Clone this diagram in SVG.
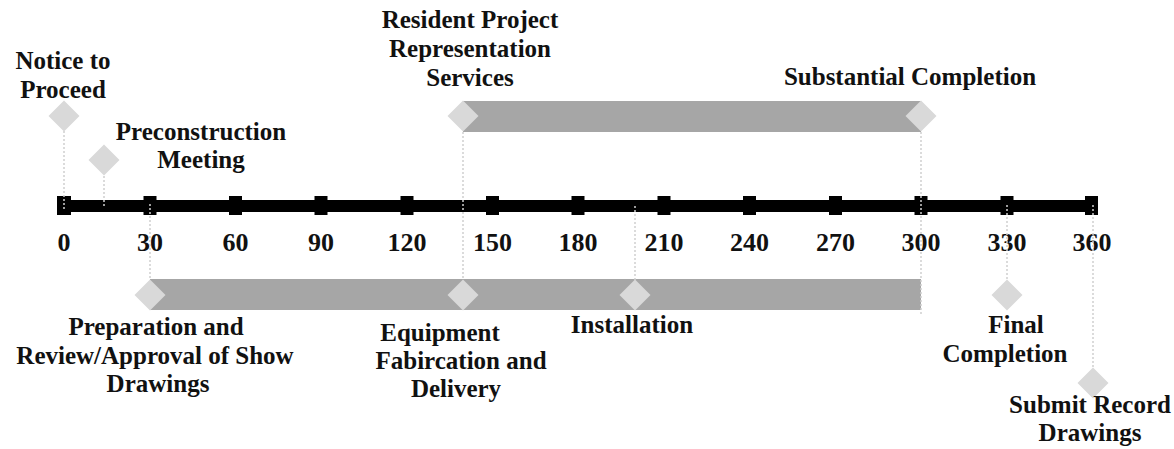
<svg xmlns="http://www.w3.org/2000/svg" width="1174" height="449" viewBox="0 0 1174 449">
<style>
text{font-family:"Liberation Serif","Times New Roman",serif;font-weight:bold;font-size:25px;fill:#111;text-anchor:middle}
.num{font-size:26px}
.bar{fill:#a6a6a6}
.dia{fill:#d9d9d9}
.dot{stroke:#cfcfcf;stroke-width:1.5;stroke-dasharray:2 2;fill:none}
.tick{fill:#000}
</style>
<defs>
<polygon id="d" class="dia" points="0,-15.5 15.5,0 0,15.5 -15.5,0"/>
</defs>
<g id="bars">
<rect class="bar" x="463" y="101" width="458" height="31"/>
<rect class="bar" x="150" y="279" width="771" height="31"/>
</g>
<g id="axis">
<rect x="57" y="200" width="1041" height="12" fill="#000"/>
<g class="tick">
<rect x="57" y="196" width="14" height="19"/>
<rect x="143.5" y="196" width="13" height="19"/>
<rect x="229" y="196" width="13" height="19"/>
<rect x="314.5" y="196" width="13" height="19"/>
<rect x="400.5" y="196" width="13" height="19"/>
<rect x="486" y="196" width="13" height="19"/>
<rect x="571.5" y="196" width="13" height="19"/>
<rect x="657.5" y="196" width="13" height="19"/>
<rect x="743" y="196" width="13" height="19"/>
<rect x="829" y="196" width="13" height="19"/>
<rect x="914.5" y="196" width="13" height="19"/>
<rect x="1000.5" y="196" width="13" height="19"/>
<rect x="1085" y="196" width="13" height="19"/>
</g>
<g class="labels">
<text class="num" x="64" y="251">0</text>
<text class="num" x="150" y="251">30</text>
<text class="num" x="235.5" y="251">60</text>
<text class="num" x="321" y="251">90</text>
<text class="num" x="407" y="251">120</text>
<text class="num" x="492.5" y="251">150</text>
<text class="num" x="578" y="251">180</text>
<text class="num" x="664" y="251">210</text>
<text class="num" x="749.5" y="251">240</text>
<text class="num" x="835.5" y="251">270</text>
<text class="num" x="921" y="251">300</text>
<text class="num" x="1007" y="251">330</text>
<text class="num" x="1092" y="251">360</text>
</g>
</g>
<g id="connectors">
<line class="dot" x1="64" y1="131" x2="64" y2="210"/>
<line class="dot" x1="104" y1="176" x2="104" y2="208"/>
<line class="dot" x1="150" y1="204" x2="150" y2="279"/>
<line class="dot" x1="463" y1="132" x2="463" y2="280"/>
<line class="dot" x1="635" y1="206" x2="635" y2="280"/>
<line class="dot" x1="921" y1="132" x2="921" y2="316"/>
<line class="dot" x1="1007" y1="205" x2="1007" y2="280"/>
<line class="dot" x1="1093" y1="205" x2="1093" y2="368"/>
</g>
<g id="notice-to-proceed">
<use href="#d" x="64" y="116"/>
<text x="63" y="69">Notice to</text>
<text x="63" y="98">Proceed</text>
</g>
<g id="preconstruction-meeting">
<use href="#d" x="104" y="160"/>
<text x="201" y="140">Preconstruction</text>
<text x="201" y="168">Meeting</text>
</g>
<g id="resident-project">
<use href="#d" x="463" y="116"/>
<text x="470" y="28">Resident Project</text>
<text x="470" y="57">Representation</text>
<text x="470" y="86">Services</text>
</g>
<g id="substantial-completion">
<use href="#d" x="921" y="116"/>
<text x="910" y="85">Substantial Completion</text>
</g>
<g id="preparation">
<use href="#d" x="150" y="295"/>
<text x="156" y="335">Preparation and</text>
<text x="155" y="364">Review/Approval of Show</text>
<text x="158" y="392">Drawings</text>
</g>
<g id="equipment">
<use href="#d" x="463" y="295"/>
<text x="440" y="341">Equipment</text>
<text x="461" y="369">Fabircation and</text>
<text x="456" y="397">Delivery</text>
</g>
<g id="installation">
<use href="#d" x="635" y="295"/>
<text x="632" y="333">Installation</text>
</g>
<g id="final-completion">
<use href="#d" x="1007" y="295"/>
<text x="1016" y="333">Final</text>
<text x="1005" y="362">Completion</text>
</g>
<g id="submit-record">
<use href="#d" x="1093" y="383"/>
<text x="1090" y="413">Submit Record</text>
<text x="1090" y="441">Drawings</text>
</g>
</svg>
